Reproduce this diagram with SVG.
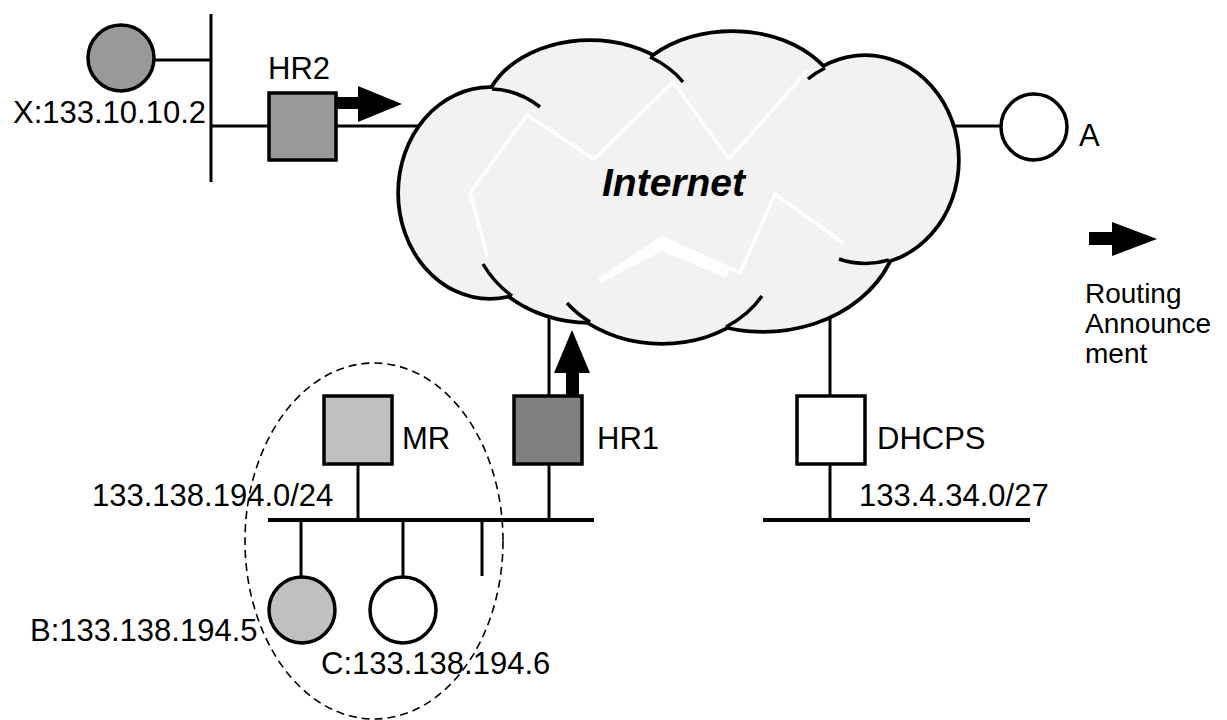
<svg xmlns="http://www.w3.org/2000/svg" width="1227" height="720" viewBox="0 0 1227 720">
<style>
  text { font-family: "Liberation Sans", Arial, sans-serif; font-size: 31px; fill: #000; }
  .ln { stroke: #000; stroke-width: 3; fill: none; }
  .bus { stroke: #000; stroke-width: 4; fill: none; }
  .box { stroke: #000; stroke-width: 3.5; }
  .node { stroke: #000; stroke-width: 3.5; }
  .cl-o { stroke: #000; stroke-width: 7.5; fill: #f2f2f2; }
  .cl-f { fill: #f2f2f2; stroke: none; }
  .cl-a { stroke: #000; stroke-width: 3.5; fill: none; }
  .bolt { stroke: #fff; stroke-width: 3.5; fill: none; stroke-linejoin: miter; }
  .arrow { fill: #000; }
  .leg { font-size: 28px; }
</style>
<defs>
  <g id="cloudShapes">
    <ellipse cx="490" cy="193" rx="90" ry="104"/>
    <ellipse cx="590" cy="117" rx="105" ry="75"/>
    <ellipse cx="732" cy="113" rx="110" ry="80"/>
    <ellipse cx="865" cy="160" rx="92" ry="103"/>
    <ellipse cx="763" cy="220" rx="135" ry="110"/>
    <ellipse cx="662" cy="252" rx="115" ry="90"/>
    <ellipse cx="590" cy="220" rx="120" ry="101"/>
  </g>
</defs>

<g id="connectors">
  <line class="ln" x1="211" y1="14" x2="211" y2="182"/>
  <line class="ln" x1="150" y1="60" x2="211" y2="60"/>
  <line class="ln" x1="211" y1="126" x2="424" y2="126"/>
  <line class="ln" x1="955" y1="126" x2="1001" y2="126"/>
  <line class="ln" x1="549" y1="312" x2="549" y2="396"/>
  <line class="ln" x1="830" y1="312" x2="830" y2="396"/>
  <line class="bus" x1="268" y1="520" x2="594" y2="520"/>
  <line class="ln" x1="358" y1="464" x2="358" y2="520"/>
  <line class="ln" x1="549" y1="464" x2="549" y2="520"/>
  <line class="ln" x1="301" y1="520" x2="301" y2="578"/>
  <line class="ln" x1="403" y1="520" x2="403" y2="578"/>
  <line class="ln" x1="482" y1="520" x2="482" y2="576"/>
  <line class="bus" x1="763" y1="520" x2="1030" y2="520"/>
  <line class="ln" x1="830" y1="464" x2="830" y2="520"/>
</g>

<g id="cloud">
  <use href="#cloudShapes" class="cl-o"/>
  <use href="#cloudShapes" class="cl-f"/>
  <path class="cl-a" d="M 492 89 A 90 104 0 0 1 540 107"/>
  <path class="cl-a" d="M 650 57 A 105 75 0 0 1 683 82"/>
  <path class="cl-a" d="M 808 79 A 92 103 0 0 1 825 68"/>
  <path class="cl-a" d="M 839 259 A 92 103 0 0 0 889 260"/>
  <path class="cl-a" d="M 567 303 A 115 90 0 0 0 590 322"/>
  <path class="cl-a" d="M 726 327 A 115 90 0 0 0 762 296"/>
  <path class="cl-a" d="M 483 264 A 120 101 0 0 0 512 296"/>
  <polyline class="bolt" points="488,258 470,193 527,115 594,159 673,82 729,159 808,70"/>
  <polyline class="bolt" points="599,280 662,238 740,273 775,194 843,243"/>
  <polygon fill="#fff" points="662,237 729,267 727,278 662,251 601,283 599,279"/>
  <text x="602" y="196" style="font-weight:bold;font-style:italic;font-size:39px">Internet</text>
</g>

<g id="X">
  <circle class="node" cx="121" cy="58" r="33" fill="#999999"/>
  <text x="13" y="123">X:133.10.10.2</text>
</g>

<g id="HR2">
  <rect class="box" x="269" y="93" width="67" height="67" fill="#999999"/>
  <text x="268" y="79">HR2</text>
  <polygon class="arrow" points="337,97 358,97 358,86 402,104 358,122 358,109 337,109"/>
</g>

<g id="A">
  <circle class="node" cx="1034" cy="127" r="33" fill="#fff"/>
  <text x="1079" y="146">A</text>
</g>

<g id="legend">
  <polygon class="arrow" points="1089,232 1112,232 1112,222 1157,239 1112,256 1112,245 1089,245"/>
  <text class="leg" x="1085" y="303">Routing</text>
  <text class="leg" x="1085" y="333">Announce</text>
  <text class="leg" x="1085" y="363">ment</text>
</g>

<g id="MR">
  <rect class="box" x="324" y="396" width="68" height="68" fill="#c0c0c0"/>
  <text x="402" y="449">MR</text>
</g>

<g id="HR1">
  <rect class="box" x="514" y="396" width="68" height="68" fill="#808080"/>
  <text x="597" y="449">HR1</text>
  <polygon class="arrow" points="566,396 566,373 554,373 572,330 590,373 579,373 579,396"/>
</g>

<g id="DHCPS">
  <rect class="box" x="797" y="396" width="68" height="68" fill="#fff"/>
  <text x="877" y="449">DHCPS</text>
</g>

<g id="net-home">
  <text x="92" y="506">133.138.194.0/24</text>
</g>

<g id="net-dhcp">
  <text x="859" y="506">133.4.34.0/27</text>
</g>

<g id="B">
  <circle class="node" cx="302" cy="610" r="33" fill="#c0c0c0"/>
  <text x="30" y="641">B:133.138.194.5</text>
</g>

<g id="C">
  <circle class="node" cx="403" cy="610" r="33" fill="#fff"/>
  <text x="321" y="674">C:133.138.194.6</text>
</g>

<g id="home-area">
  <ellipse cx="374" cy="541" rx="129" ry="178" fill="none" stroke="#000" stroke-width="1.6" stroke-dasharray="8 5"/>
</g>
</svg>
